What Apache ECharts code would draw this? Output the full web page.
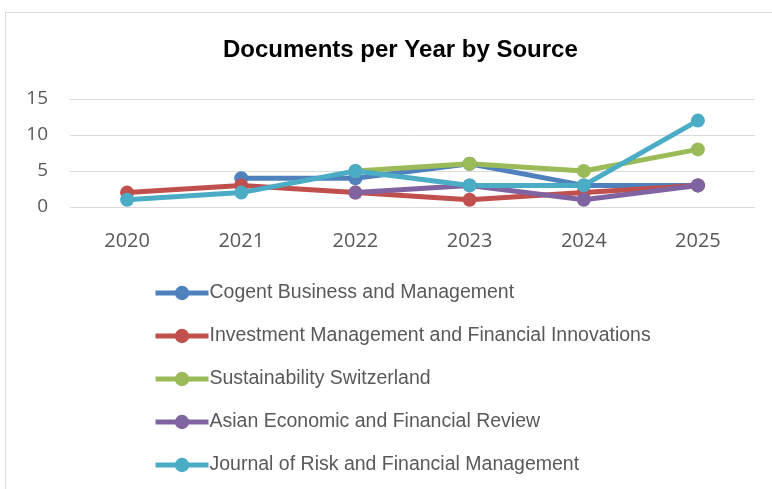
<!DOCTYPE html>
<html>
<head>
<meta charset="utf-8">
<script src="https://cdn.jsdelivr.net/npm/echarts@6/dist/echarts.min.js"></script>
<style>
  html, body { margin: 0; padding: 0; background: #fff; }
  #main { width: 772px; height: 489px; }
</style>
</head>
<body>
<div id="main"></div>
<script>
var years = ['2020', '2021', '2022', '2023', '2024', '2025'];
var sourceNames = [
  'Cogent Business and Management',
  'Investment Management and Financial Innovations',
  'Sustainability Switzerland',
  'Asian Economic and Financial Review',
  'Journal of Risk and Financial Management'
];
var cogent = [null, 4, 4, 6, 3, 3];
var investment = [2, 3, 2, 1, 2, 3];
var sustainability = [null, null, 5, 6, 5, 8];
var asian = [null, null, 2, 3, 1, 3];
var journalRisk = [1, 2, 5, 3, 3, 12];
var colors = ['#4F81BD', '#C0504D', '#9BBB59', '#8064A2', '#4BACC6'];

var chart = echarts.init(document.getElementById('main'));

function makeSeries(i, values) {
  return {
    name: sourceNames[i],
    type: 'line',
    data: values,
    symbol: 'circle',
    symbolSize: 14,
    lineStyle: { width: 5, color: colors[i] },
    itemStyle: { color: colors[i] },
    connectNulls: false,
    animation: false
  };
}

var option = {
  backgroundColor: '#fff',
  color: colors,
  graphic: [{
    type: 'rect',
    shape: { x: 5.5, y: 12.5, width: 800, height: 500 },
    style: { fill: 'none', stroke: '#d9d9d9', lineWidth: 1 },
    silent: true
  }],
  title: {
    text: 'Documents per Year by Source',
    left: 218,
    top: 33,
    textStyle: {
      fontFamily: 'Liberation Sans',
      fontWeight: 'bold',
      fontSize: 24,
      color: '#000'
    }
  },
  grid: { left: 70, right: 17, top: 99, bottom: 282, containLabel: false },
  xAxis: {
    type: 'category',
    data: years,
    boundaryGap: true,
    axisLine: { show: false },
    axisTick: { show: false },
    axisLabel: { color: '#595959', fontSize: 20, fontFamily: 'Open Sans', margin: 24 }
  },
  yAxis: {
    type: 'value',
    min: 0,
    max: 15,
    interval: 5,
    axisLine: { show: false },
    axisTick: { show: false },
    axisLabel: { color: '#595959', fontSize: 19, fontFamily: 'Open Sans', margin: 22 },
    splitLine: { lineStyle: { color: '#d9d9d9', width: 1 } }
  },
  legend: {
    orient: 'vertical',
    left: 148,
    top: 278,
    itemWidth: 53,
    itemHeight: 18,
    itemGap: 23,
    lineStyle: { width: 5 },
    textStyle: { color: '#595959', fontSize: 19.5, fontFamily: 'Liberation Sans', lineHeight: 20, padding: [0, 0, 0, -4] },
    data: sourceNames
  },
  series: [
    makeSeries(0, cogent),
    makeSeries(1, investment),
    makeSeries(2, sustainability),
    makeSeries(3, asian),
    makeSeries(4, journalRisk)
  ]
};

chart.setOption(option);
</script>
</body>
</html>
